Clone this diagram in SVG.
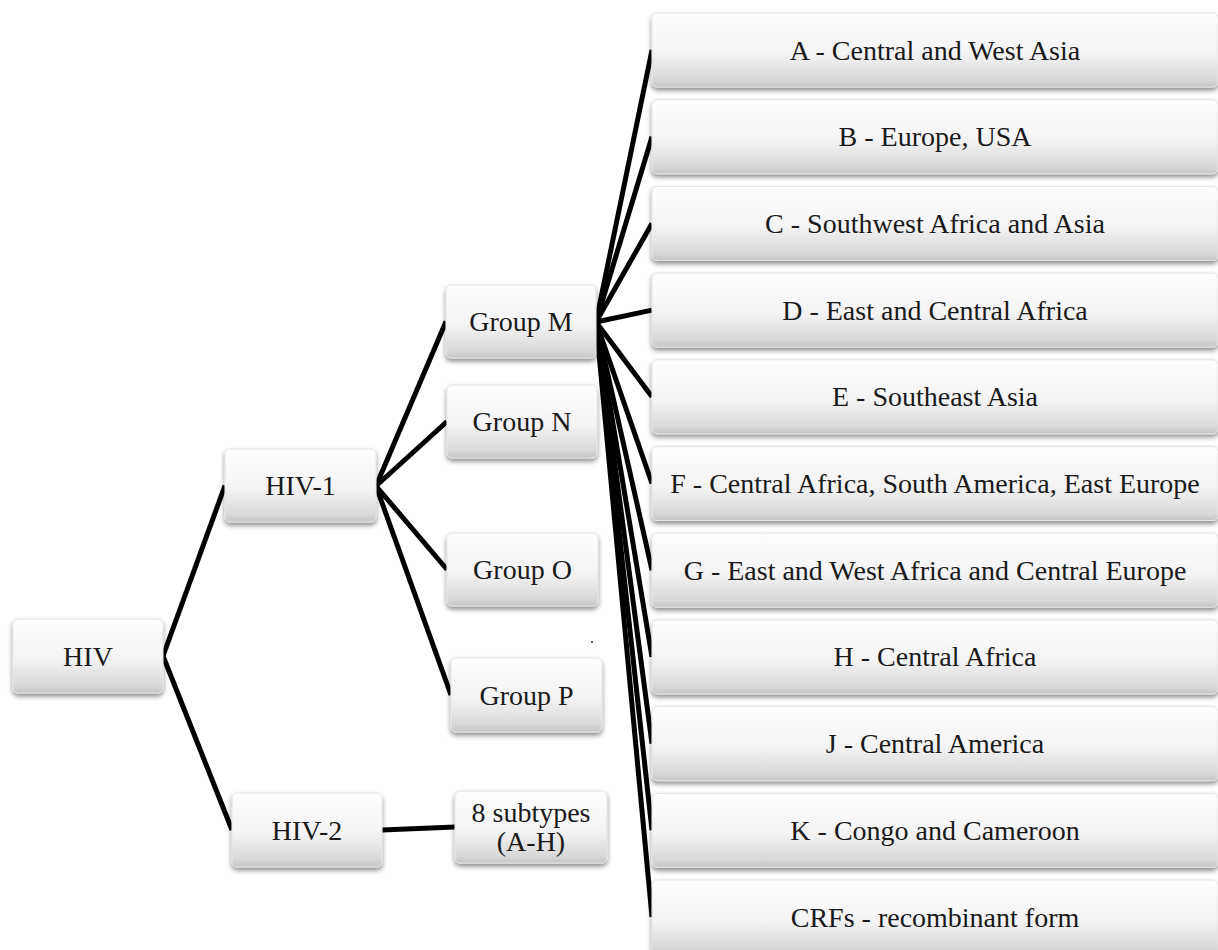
<svg xmlns="http://www.w3.org/2000/svg" width="1218" height="950" viewBox="0 0 1218 950">
<style>
  .box { fill: url(#g); stroke: #e4e4e4; stroke-width: 1; filter: url(#sh); }
  .t { font-family: "Liberation Serif", Tinos, "Times New Roman", "DejaVu Serif", "Noto Serif", serif; font-size: 28px; fill: #1a1a1a; text-anchor: middle; }
  .c line { stroke: #000; stroke-width: 5; stroke-linecap: butt; }
</style>
<defs>
  <linearGradient id="g" x1="0" y1="0" x2="0" y2="1">
    <stop offset="0" stop-color="#ffffff"/>
    <stop offset="0.55" stop-color="#f3f3f3"/>
    <stop offset="0.9" stop-color="#d9d9d9"/>
    <stop offset="1" stop-color="#c4c4c4"/>
  </linearGradient>
  <filter id="sh" x="-10%" y="-20%" width="120%" height="150%">
    <feGaussianBlur in="SourceAlpha" stdDeviation="2.5"/>
    <feOffset dx="0" dy="3" result="b"/>
    <feComponentTransfer><feFuncA type="linear" slope="0.45"/></feComponentTransfer>
    <feMerge><feMergeNode/><feMergeNode in="SourceGraphic"/></feMerge>
  </filter>
</defs>
<rect width="1218" height="950" fill="#fff"/>

<g class="c" id="connectors">
  <line x1="163" y1="656" x2="225" y2="485.5"/>
  <line x1="163" y1="656" x2="232" y2="830"/>
  <line x1="376" y1="486" x2="446" y2="321.5"/>
  <line x1="376" y1="486" x2="447" y2="421.5"/>
  <line x1="376" y1="486" x2="447" y2="569.5"/>
  <line x1="376" y1="486" x2="451" y2="695"/>
  <line x1="382" y1="830" x2="455" y2="827"/>
  <line x1="596" y1="322" x2="652" y2="50"/>
  <line x1="596" y1="322" x2="652" y2="136.7"/>
  <line x1="596" y1="322" x2="652" y2="223.4"/>
  <line x1="596" y1="322" x2="652" y2="310.1"/>
  <line x1="596" y1="322" x2="652" y2="396.8"/>
  <line x1="596" y1="322" x2="652" y2="483.5"/>
  <line x1="596" y1="322" x2="652" y2="570.2"/>
  <line x1="596" y1="322" x2="652" y2="656.9"/>
  <line x1="596" y1="322" x2="652" y2="743.6"/>
  <line x1="596" y1="322" x2="652" y2="830.3"/>
  <line x1="596" y1="322" x2="652" y2="917"/>
</g>

<circle cx="592" cy="642" r="1" fill="#333"/>

<g id="n-hiv"><rect class="box" x="13" y="619" width="150" height="74" rx="5"/><text class="t" x="88" y="665.5">HIV</text></g>
<g id="n-hiv1"><rect class="box" x="225" y="449" width="151" height="73" rx="5"/><text class="t" x="300.5" y="495">HIV-1</text></g>
<g id="n-hiv2"><rect class="box" x="232" y="793" width="150" height="74" rx="5"/><text class="t" x="307" y="839.5">HIV-2</text></g>
<g id="n-gm"><rect class="box" x="446" y="285" width="150" height="73" rx="5"/><text class="t" x="521" y="331">Group M</text></g>
<g id="n-gn"><rect class="box" x="447" y="385" width="150" height="73" rx="5"/><text class="t" x="522" y="431">Group N</text></g>
<g id="n-go"><rect class="box" x="447" y="533" width="151" height="73" rx="5"/><text class="t" x="522.5" y="579">Group O</text></g>
<g id="n-gp"><rect class="box" x="451" y="658" width="151" height="74" rx="5"/><text class="t" x="526.5" y="704.5">Group P</text></g>
<g id="n-sub"><rect class="box" x="455" y="791" width="152" height="72" rx="5"/><text class="t" x="531" y="822">8 subtypes</text><text class="t" x="531" y="851">(A-H)</text></g>

<g id="n-a"><rect class="box" x="652" y="13" width="566" height="74" rx="5"/><text class="t" x="935" y="59.5">A - Central and West Asia</text></g>
<g id="n-b"><rect class="box" x="652" y="99.7" width="566" height="74" rx="5"/><text class="t" x="935" y="146.2">B - Europe, USA</text></g>
<g id="n-c"><rect class="box" x="652" y="186.4" width="566" height="74" rx="5"/><text class="t" x="935" y="232.9">C - Southwest Africa and Asia</text></g>
<g id="n-d"><rect class="box" x="652" y="273.1" width="566" height="74" rx="5"/><text class="t" x="935" y="319.6">D - East and Central Africa</text></g>
<g id="n-e"><rect class="box" x="652" y="359.8" width="566" height="74" rx="5"/><text class="t" x="935" y="406.3">E - Southeast Asia</text></g>
<g id="n-f"><rect class="box" x="652" y="446.5" width="566" height="74" rx="5"/><text class="t" x="935" y="493">F - Central Africa, South America, East Europe</text></g>
<g id="n-g"><rect class="box" x="652" y="533.2" width="566" height="74" rx="5"/><text class="t" x="935" y="579.7">G - East and West Africa and Central Europe</text></g>
<g id="n-h"><rect class="box" x="652" y="619.9" width="566" height="74" rx="5"/><text class="t" x="935" y="666.4">H - Central Africa</text></g>
<g id="n-j"><rect class="box" x="652" y="706.6" width="566" height="74" rx="5"/><text class="t" x="935" y="753.1">J - Central America</text></g>
<g id="n-k"><rect class="box" x="652" y="793.3" width="566" height="74" rx="5"/><text class="t" x="935" y="839.8">K - Congo and Cameroon</text></g>
<g id="n-crf"><rect class="box" x="652" y="880" width="566" height="74" rx="5"/><text class="t" x="935" y="926.5">CRFs - recombinant form</text></g>
</svg>
